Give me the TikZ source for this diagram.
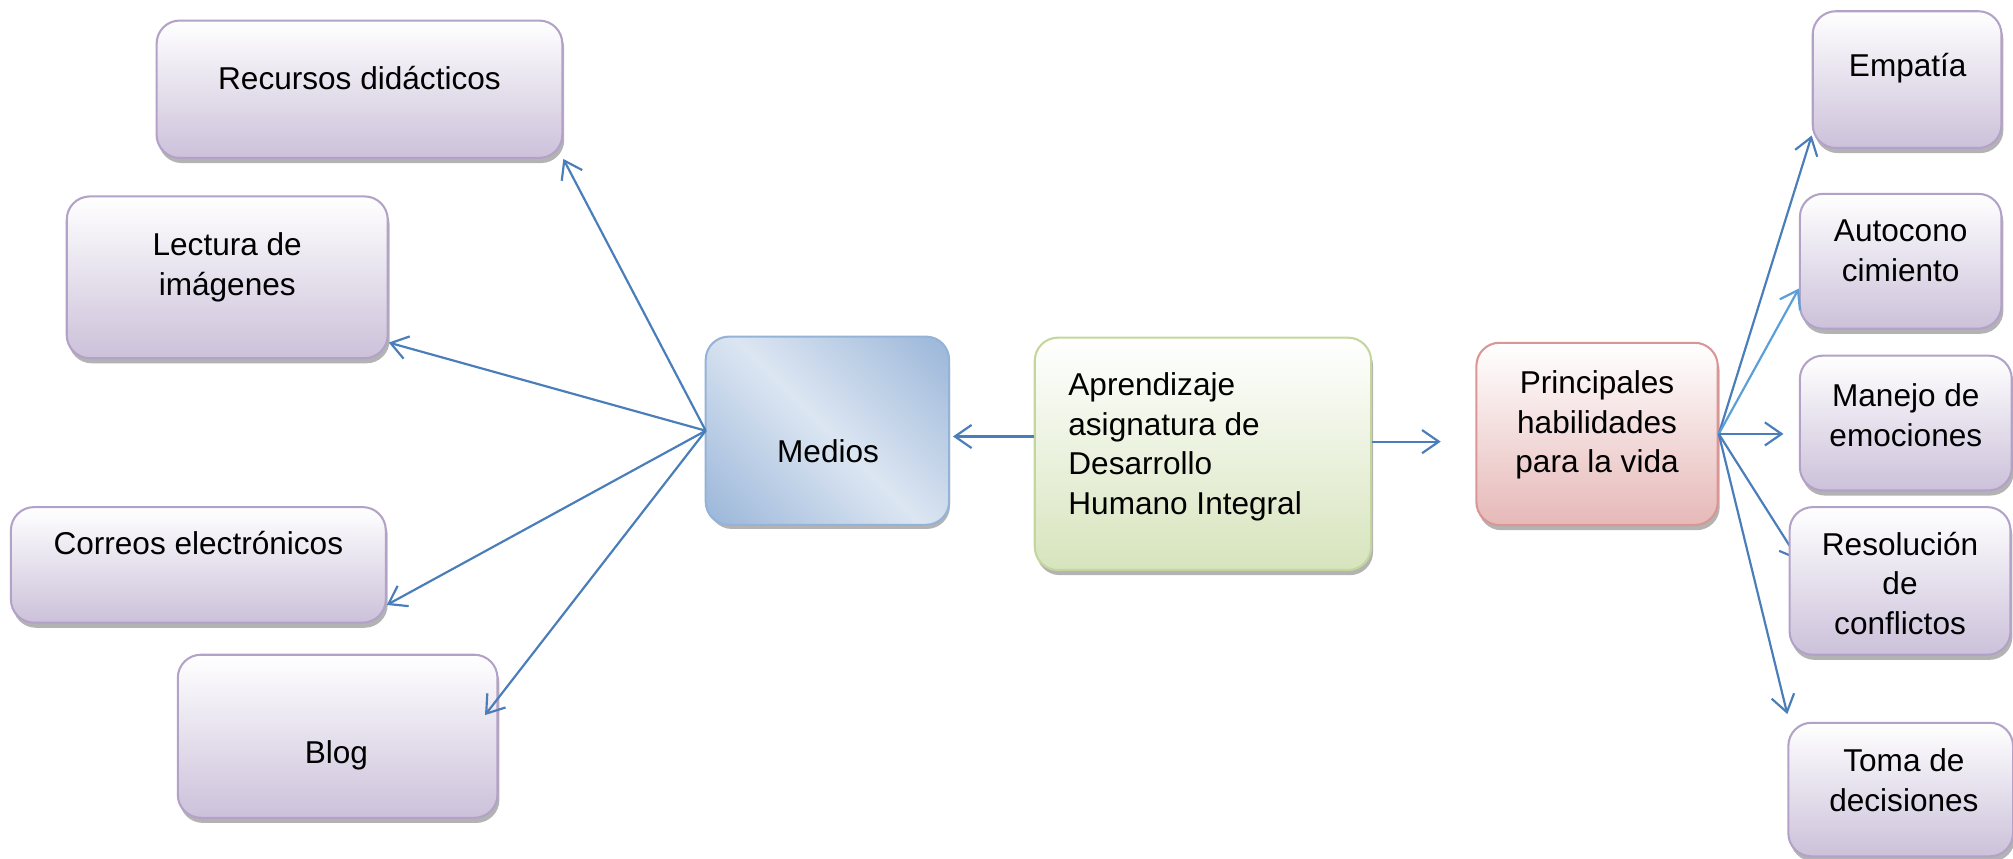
\documentclass[tikz,border=0pt]{standalone}
\usepackage{fontspec}
\setmainfont{Liberation Sans}
\usetikzlibrary{arrows.meta,shadows,calc}
\pgfdeclarelayer{back}
\pgfsetlayers{back,main}
\definecolor{arrblue}{HTML}{4A7EBB}
\definecolor{arrlight}{HTML}{5B9FD8}
\definecolor{purpB}{HTML}{B3A2C7}
\definecolor{purpF}{HTML}{CCC1DA}
\definecolor{greenB}{HTML}{C3D69B}
\definecolor{greenF}{HTML}{D7E4BD}
\definecolor{redB}{HTML}{D99694}
\definecolor{redF}{HTML}{E6B9B8}
\definecolor{blueB}{HTML}{95B3D7}
\definecolor{blueD}{HTML}{92B0D6}
\definecolor{blueL}{HTML}{DCE6F2}
\begin{document}
\begin{tikzpicture}[x=1pt,y=-1pt,
  box/.style={rectangle, rounded corners=18pt, line width=1.6pt, inner sep=0pt,
     drop shadow={shadow xshift=1.5pt, shadow yshift=-4pt, fill=black!50, opacity=.6}},
  purplebox/.style={box, draw=purpB, top color=white, bottom color=purpF},
  greenbox/.style={box, draw=greenB, top color=white, bottom color=greenF},
  redbox/.style={box, draw=redB, top color=white, bottom color=redF},
  mediosbox/.style={box, draw=blueB, fill=blueL},
  txt/.style={font=\fontsize{24.6}{31}\selectfont, align=center, inner sep=0pt},
  arr/.style={draw=arrblue, line width=1.7pt, -{Straight Barb[length=13pt,width=18pt]}},
]
\useasboundingbox (0,0) rectangle (1568,669.1);

% boxes
\node[purplebox, minimum width=316pt, minimum height=107pt] (recursos) at (280,69.5) {};
\node[purplebox, minimum width=250pt, minimum height=126pt] (lectura) at (177,216) {};
\node[purplebox, minimum width=292pt, minimum height=90pt] (correos) at (154.5,440) {};
\node[purplebox, minimum width=249pt, minimum height=127pt] (blog) at (263,573.5) {};
\node[mediosbox, minimum width=188pt, minimum height=145pt] (medios) at (644.5,335.5) {};
% diagonal gradient of the Medios box
\begin{scope}
\clip[rounded corners=18pt] (medios.south west) rectangle (medios.north east);
\begin{scope}[transform canvas={rotate around={45:(medios.center)}}]
\shade[left color=blueD, right color=blueD, middle color=blueL]
  ($(medios.center)+(-132,-132)$) rectangle ($(medios.center)+(132,132)$);
\end{scope}
\end{scope}
\draw[blueB, line width=1.6pt, rounded corners=18pt] (medios.south west) rectangle (medios.north east);

\node[greenbox, minimum width=262pt, minimum height=181pt] (aprend) at (937,353.5) {};
\node[redbox, minimum width=188pt, minimum height=142pt] (princ) at (1244,338) {};
\node[purplebox, minimum width=147pt, minimum height=106.5pt] (empatia) at (1485.5,62) {};
\node[purplebox, minimum width=157pt, minimum height=105pt] (autocono) at (1480.5,203.5) {};
\node[purplebox, minimum width=165pt, minimum height=105pt] (manejo) at (1484.5,329.5) {};
\node[purplebox, minimum width=172pt, minimum height=115pt] (resol) at (1480,452.5) {};
\node[purplebox, minimum width=175pt, minimum height=104pt] (toma) at (1480.5,615) {};

% texts
\node[txt] (trec) at (280,61) {Recursos didácticos};
\node[txt] (tlec) at (177,208.5) {Lectura de\\imágenes};
\node[txt] (tcor) at (154.5,423) {Correos electrónicos};
\node[txt] (tblog) at (262,588) {Blog};
\node[txt] (tmed) at (645,351.5) {Medios};
\node[txt, align=left, anchor=west] (tapr) at (832,348) {Aprendizaje\\asignatura de\\Desarrollo\\Humano Integral};
\node[txt] (tpri) at (1244,331) {Principales\\habilidades\\para la vida};
\node[txt] (temp) at (1486,53) {Empatía};
\node[txt] (taut) at (1480.5,195.5) {Autocono\\cimiento};
\node[txt] (tman) at (1484.5,323.5) {Manejo de\\emociones};
\node[txt] (tres) at (1480,454.5) {Resolución\\de\\conflictos};
\node[txt] (ttom) at (1483,607.5) {Toma de\\decisiones};

% connectors
\draw[arr] (medios.west) -- (recursos.south east);
\draw[arr] (medios.west) -- (lectura.-22);
\draw[arr] (medios.west) -- (correos.-12);
\draw[arr] (medios.west) -- ($(blog.east)+(-10.5,-16.5)$);
\draw[arr] ($(aprend.west)+(0,-13.5)$) -- ($(medios.east)+(3,4.5)$);
\draw[arr] ($(aprend.east)+(0,-9.5)$) -- ($(princ.west)+(-27,6)$);
\draw[arr] (princ.east) -- ($(empatia.south west)+(0,-10.5)$);
\draw[arr, draw=arrlight] (princ.east) -- (autocono.195);
\draw[arr] (princ.east) -- ($(manejo.west |- princ.east)+(-12,0)$);
\begin{pgfonlayer}{back}
\draw[arr] (princ.east) -- ($(resol.west)+(8,-16)$);
\end{pgfonlayer}
\draw[arr] (princ.east) -- ($(toma.north west)+(0,-6)$);
\end{tikzpicture}
\end{document}
